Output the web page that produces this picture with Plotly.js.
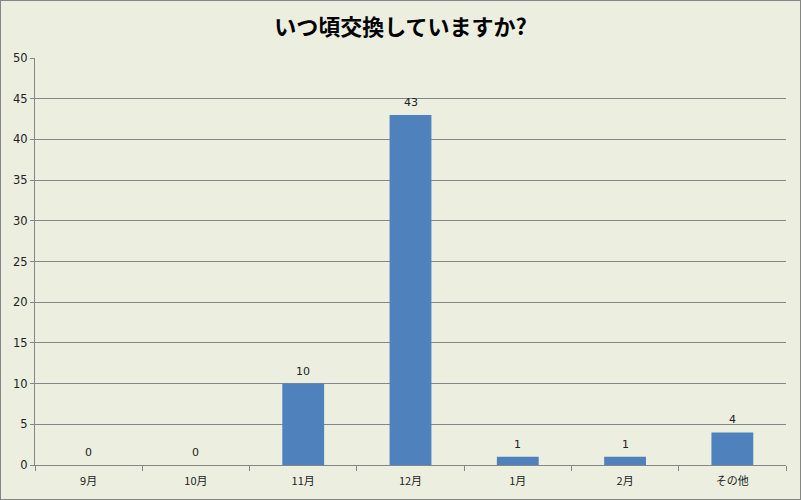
<!DOCTYPE html>
<html>
<head>
<meta charset="utf-8">
<script src="https://cdn.plot.ly/plotly-3.0.1.min.js"></script>
<style>
  body { margin: 0; padding: 0; }
  #wrap { position: relative; width: 801px; height: 500px; }
  #frame { position: absolute; left: 0; top: 0; width: 799px; height: 498px;
           border: 1px solid #858585; pointer-events: none; }
</style>
</head>
<body>
<div id="wrap">
  <div id="myPlot" style="width:801px;height:500px;"></div>
  <div id="frame"></div>
</div>
<script>
// categories and counts
var months = ['9月', '10月', '11月', '12月', '1月', '2月', 'その他'];
var counts = [0, 0, 10, 43, 1, 1, 4];
var yTicks = [0, 5, 10, 15, 20, 25, 30, 35, 40, 45, 50];

var jpFont = '"Noto Sans CJK JP", "DejaVu Sans", sans-serif';

let trace = {
    x: months,
    y: counts,
    type: 'bar',
    width: 0.39,
    marker: { color: '#4F81BD' },
    hoverinfo: 'none'
};

// value labels above each bar
let labels = months.map(function (m, i) {
    return {
        x: m, y: counts[i],
        xref: 'x', yref: 'y',
        text: String(counts[i]),
        showarrow: false,
        yanchor: 'bottom',
        yshift: 4,
        font: { family: '"DejaVu Sans", sans-serif', size: 11, color: '#222' }
    };
});

let layout = {
    width: 801,
    height: 500,
    paper_bgcolor: '#ECEFE0',
    plot_bgcolor: '#ECEFE0',
    margin: { l: 35, r: 15, t: 58, b: 35 },
    title: {
        text: '<b>いつ頃交換していますか?</b>',
        font: { family: jpFont, size: 22, color: '#000' },
        x: 0.5, xanchor: 'center',
        y: 0.945, yanchor: 'middle'
    },
    showlegend: false,
    annotations: labels,
    xaxis: {
        type: 'category',
        showgrid: false,
        showline: true,
        linecolor: '#868686',
        linewidth: 1,
        ticks: 'outside',
        tickson: 'boundaries',
        ticklen: 5,
        tickcolor: '#868686',
        ticklabelstandoff: 6,
        tickfont: { family: jpFont, size: 11, color: '#222' },
        fixedrange: true
    },
    yaxis: {
        range: [0, 50],
        tickvals: yTicks,
        showgrid: true,
        gridcolor: '#868686',
        gridwidth: 1,
        zeroline: false,
        showline: true,
        linecolor: '#868686',
        ticks: 'outside',
        ticklen: 4,
        tickcolor: '#868686',
        tickfont: { family: '"DejaVu Sans", sans-serif', size: 11.5, color: '#222' },
        fixedrange: true
    }
};

Plotly.newPlot('myPlot', [trace], layout, { displayModeBar: false, staticPlot: true });
</script>
</body>
</html>
